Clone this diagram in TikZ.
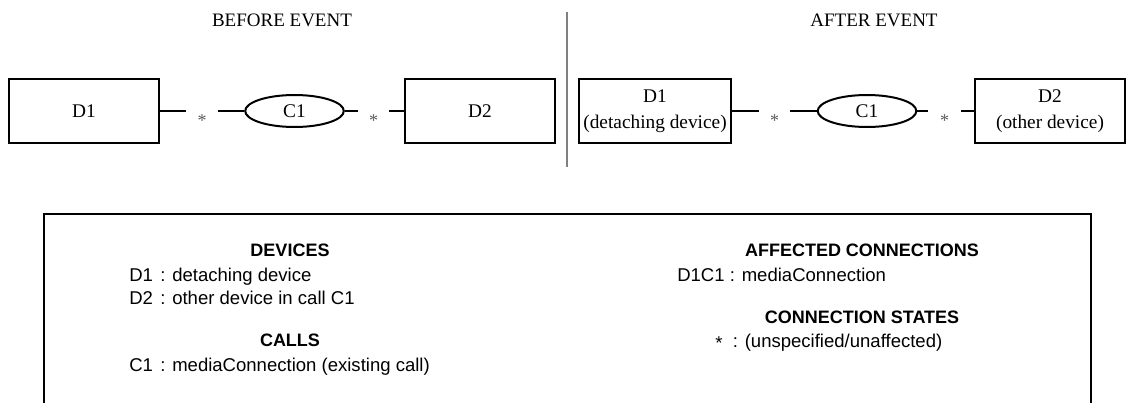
\documentclass[tikz,border=0pt]{standalone}
\usepackage{fontspec}
\setmainfont{Liberation Serif}
\newfontfamily\arialf{Liberation Sans}
\usetikzlibrary{shapes.geometric}
\tikzset{
  devbox/.style={draw, line width=1.5pt, minimum width=112.5pt, minimum height=48pt, inner sep=0pt,
    align=center, font=\fontsize{14.5}{19.5}\selectfont},
  callell/.style={draw, ellipse, line width=1.5pt, minimum width=74pt, minimum height=24pt, inner sep=0pt,
    font=\fontsize{14.5}{17}\selectfont},
  starnode/.style={inner sep=0pt, minimum height=12pt, text height=0pt, text depth=0pt,
    font=\fontsize{13.5}{14}\selectfont, text=black!65},
  conn/.style={line width=1.5pt},
  head/.style={font=\fontsize{14.25}{17}\selectfont},
  legh/.style={anchor=base, font=\arialf\bfseries\fontsize{13.5}{16}\selectfont, inner sep=0pt},
  legt/.style={anchor=base west, font=\arialf\fontsize{13.9}{16}\selectfont, inner sep=0pt},
}
\begin{document}
\begin{tikzpicture}[x=0.75pt, y=-0.75pt]
\clip (0,0) rectangle (1127,403);
% headers
\node[head] (hb) at (282,20) {BEFORE EVENT};
\node[head] (ha) at (874,20) {AFTER EVENT};
% separator
\coordinate (sept) at (567,12);
\coordinate (sepb) at (567,167);
\draw[line width=1.5pt, black!50] (sept) -- (sepb);
% before event
\node[devbox, minimum width=113pt] (ld1) at (84,111) {D1};
\node[starnode, minimum width=24pt] (s1) at (202,111) {\raisebox{-11.5pt}{*}};
\node[callell] (lc1) at (294.5,111) {C1};
\node[starnode, minimum width=23pt] (s2) at (373.5,111) {\raisebox{-11.5pt}{*}};
\node[devbox] (ld2) at (480,111) {D2};
\draw[conn] (ld1) -- (s1);
\draw[conn] (s1) -- (lc1);
\draw[conn] (lc1) -- (s2);
\draw[conn] (s2) -- (ld2);
% after event
\node[devbox, minimum width=114pt] (rd1) at (655,111) {D1\\(detaching device)};
\node[starnode, minimum width=23.25pt] (s3) at (774.5,111) {\raisebox{-11.5pt}{*}};
\node[callell] (rc1) at (867,111) {C1};
\node[starnode, minimum width=24.75pt] (s4) at (944.5,111) {\raisebox{-11.5pt}{*}};
\node[devbox] (rd2) at (1050,111) {D2\\(other device)};
\draw[conn] (rd1) -- (s3);
\draw[conn] (s3) -- (rc1);
\draw[conn] (rc1) -- (s4);
\draw[conn] (s4) -- (rd2);
% legend box
\coordinate (bl) at (44,420);
\coordinate (tl) at (44,214);
\coordinate (tr) at (1091,214);
\coordinate (br) at (1091,420);
\draw[line width=2pt] (bl) -- (tl) -- (tr) -- (br);
% left column
\node[legh] (hdev) at (290,256.5) {DEVICES};
\node[legt] (k1) at (129,281.5) {D1};
\node[legt] (v1) at (160,281.5) {: detaching device};
\node[legt] (k2) at (129,304.5) {D2};
\node[legt] (v2) at (160,304.5) {: other device in call C1};
\node[legh] (hcal) at (290,346.5) {CALLS};
\node[legt] (k3) at (129,371.5) {C1};
\node[legt] (v3) at (160,371.5) {: mediaConnection (existing call)};
% right column
\node[legh] (haff) at (862,256.5) {AFFECTED CONNECTIONS};
\node[legt] (k4) at (677,281.5) {D1C1};
\node[legt] (v4) at (729.5,281.5) {: mediaConnection};
\node[legh] (hcs) at (862,323.5) {CONNECTION STATES};
\node[legt] (k5) at (715,347) {\raisebox{-0.12em}{*}};
\node[legt] (v5) at (732.5,347) {: (unspecified/unaffected)};
\end{tikzpicture}
\end{document}
